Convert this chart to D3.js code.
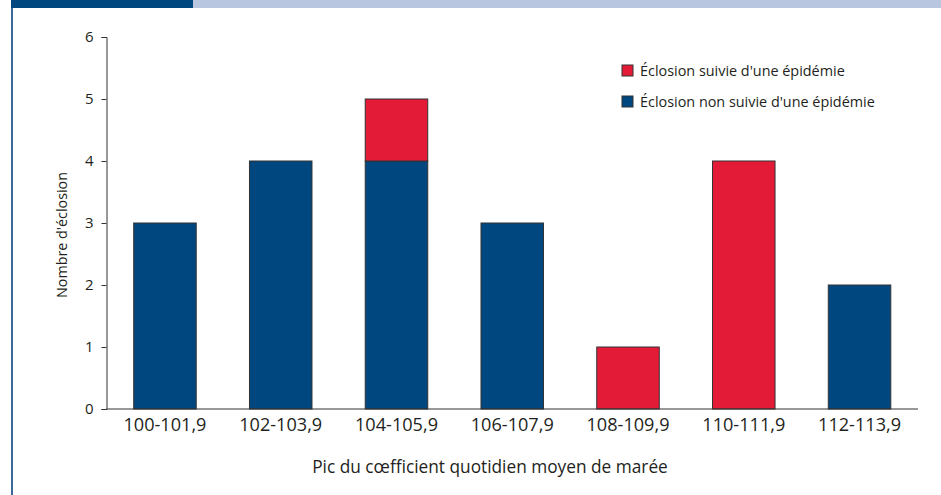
<!DOCTYPE html>
<html>
<head>
<meta charset="utf-8">
<script src="https://cdn.jsdelivr.net/npm/d3@7"></script>
<style>
  body { margin: 0; background: #fff; }
  text { font-family: "Open Sans", sans-serif; fill: #231f20; }
</style>
</head>
<body>
<div id="chart-area"></div>
<script>
// data
const categories = ["100-101,9", "102-103,9", "104-105,9", "106-107,9", "108-109,9", "110-111,9", "112-113,9"]
const nonSuivie = [3, 4, 4, 3, 0, 0, 2]
const suivie = [0, 0, 1, 0, 1, 4, 0]
const yTicks = [0, 1, 2, 3, 4, 5, 6]
const seriesNames = ["Éclosion suivie d'une épidémie", "Éclosion non suivie d'une épidémie"]

const blue = "#00467f"
const red = "#e31b37"

const W = 941, H = 495
const svg = d3.select("#chart-area").append("svg").attr("width", W).attr("height", H)

// scale a text's font size so it takes roughly the given width
function fit(sel, width) {
  const node = sel.node()
  const size = parseFloat(sel.attr("font-size"))
  const len = node.getComputedTextLength()
  return size * width / len
}

// frame
svg.append("rect").attr("x", 11).attr("y", 0).attr("width", 182).attr("height", 8).attr("fill", "#00467f")
svg.append("rect").attr("x", 193).attr("y", 0).attr("width", W - 193).attr("height", 8).attr("fill", "#b8c6df")
svg.append("rect").attr("x", 11).attr("y", 8).attr("width", 2).attr("height", H - 8).attr("fill", "#3b6a9a")

const x = d3.scaleBand().domain(categories).range([106.5, 918]).paddingInner(0.46).paddingOuter(0.235)
const y = d3.scaleLinear().domain([0, 6]).range([409, 37])

const stacked = categories.map((c, i) => ({ cat: c, non: nonSuivie[i], sui: suivie[i] }))

// bars
const g = svg.append("g")
g.selectAll("rect.non").data(stacked.filter(d => d.non > 0)).enter()
  .append("rect")
  .attr("x", d => x(d.cat))
  .attr("y", d => y(d.non))
  .attr("width", x.bandwidth())
  .attr("height", d => y(0) - y(d.non))
  .attr("fill", blue)
  .attr("stroke", "#333")
  .attr("stroke-width", 1)

g.selectAll("rect.sui").data(stacked.filter(d => d.sui > 0)).enter()
  .append("rect")
  .attr("x", d => x(d.cat))
  .attr("y", d => y(d.non + d.sui))
  .attr("width", x.bandwidth())
  .attr("height", d => y(d.non) - y(d.non + d.sui))
  .attr("fill", red)
  .attr("stroke", "#333")
  .attr("stroke-width", 1)

// axes
const yAxis = d3.axisLeft(y).tickValues(yTicks).tickSize(5).tickPadding(8).tickFormat(d3.format("d"))
const ya = svg.append("g").attr("transform", "translate(106.5,0)").call(yAxis)
ya.select(".domain").attr("stroke", "#333")
ya.selectAll(".tick line").attr("stroke", "#333")
ya.selectAll("text").attr("font-size", 15).style("font-family", "'Open Sans', sans-serif")

const xAxis = d3.axisBottom(x).tickSize(0).tickPadding(9)
const xa = svg.append("g").attr("transform", "translate(0,409)").call(xAxis)
xa.select(".domain").attr("stroke", "#333").attr("d", "M106.5,0H918")
const xt = xa.selectAll("text").attr("font-size", 16).style("font-family", "'Open Sans', sans-serif")
xt.attr("font-size", fit(d3.select(xt.node()), 83))

// axis titles
const yTitle = svg.append("text")
  .attr("transform", "translate(67,235) rotate(-90)")
  .attr("text-anchor", "middle")
  .attr("font-size", 14)
  .text("Nombre d'éclosion")
yTitle.attr("font-size", fit(yTitle, 126))

const xTitle = svg.append("text")
  .attr("x", 490).attr("y", 473)
  .attr("text-anchor", "middle")
  .attr("font-size", 15)
  .text("Pic du cœfficient quotidien moyen de marée")
xTitle.attr("font-size", fit(xTitle, 356))

// legend
const legend = svg.append("g").attr("transform", "translate(622,65)")
const legendColors = [red, blue]
const legendText = []
seriesNames.forEach((name, i) => {
  const row = legend.append("g").attr("transform", `translate(0,${i * 31})`)
  row.append("rect").attr("width", 11).attr("height", 11).attr("fill", legendColors[i]).attr("stroke", "#333")
  legendText.push(row.append("text").attr("x", 18).attr("y", 11).attr("font-size", 14).text(name))
})
const legSize = fit(legendText[0], 205)
legendText.forEach(t => t.attr("font-size", legSize))
</script>
</body>
</html>
